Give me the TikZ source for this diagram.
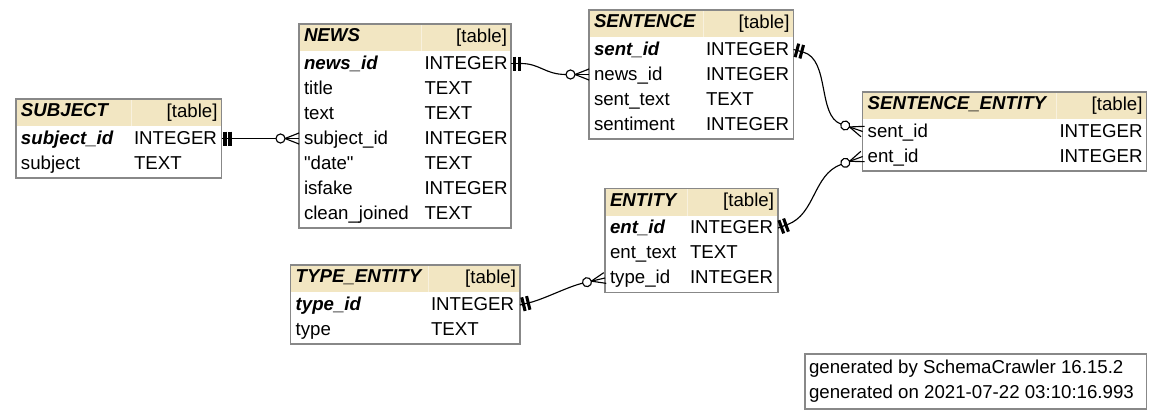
\documentclass[tikz,border=0pt]{standalone}
\usepackage{fontspec}
\setmainfont{Liberation Sans}
\font\rawq="Liberation Sans" at 14pt
\definecolor{hdr}{HTML}{F2E6C2}
\definecolor{bord}{HTML}{888888}
\definecolor{hdrdiv}{HTML}{F8F1DE}
\newcommand\fs{\fontsize{14}{16}\selectfont}
\newcommand\sq{{\rawq"}}
\tikzset{
  tblframe/.style={draw=bord, line width=0.9pt},
  cell/.style={anchor=base west, inner sep=0pt, outer sep=0pt, font=\fs},
  cellr/.style={anchor=base east, inner sep=0pt, outer sep=0pt, font=\fs},
  key/.style={font=\fs\bfseries\itshape},
  conn/.style={line width=0.85pt, black},
  bar/.style={line width=2.3pt, black},
}
% #1 id, #2 L, #3 T, #4 R, #5 divider, #6 rows, #7 title
\newcommand\dbtable[7]{%
  \pgfmathsetmacro\tb{#3+29+25*#6}%
  \fill[hdr] (#2,#3) rectangle (#4,#3+27);
  \draw[hdrdiv, line width=0.75pt] (#5,#3) -- (#5,#3+27);
  \draw[tblframe] (#2,#3) rectangle (#4,\tb);
  \node[cell, key] (#1-title) at (#2+5,#3+17.5) {#7};
  \node[cellr] (#1-kind) at (#4-4,#3+18) {[table]};
}
% #1 id, #2 L, #3 divider, #4 T, #5 i, #6 name, #7 type
\newcommand\dbrow[7]{%
  \node[cell] (#1-n#5) at (#2+5,#4+45+25*#5) {#6};
  \node[cell] (#1-t#5) at (#3+3,#4+45+25*#5) {#7};
}
\newcommand\onemark[2]{%
  \begin{scope}[shift={(#1)}, rotate=#2]
    \draw[conn] (0,0) -- (10,0);
    \draw[bar] (3.5,-7) -- (3.5,7);
    \draw[bar] (8.5,-7) -- (8.5,7);
  \end{scope}}
\newcommand\manymark[2]{%
  \begin{scope}[shift={(#1)}, rotate=#2]
    \draw[conn] (0,5.5) -- (14,0) -- (0,-5.5);
    \draw[conn] (0,0) -- (14,0);
    \draw[conn, fill=white] (18.5,0) circle[radius=4.5];
  \end{scope}}
\newcommand\kb[1]{{\bfseries\itshape #1}}
\begin{document}
\begin{tikzpicture}[x=0.75pt, y=-0.75pt]
\useasboundingbox (0,0) rectangle (1163,419);
\fill[white] (0,0) rectangle (1163,419);

% SUBJECT
\dbtable{subj}{16}{99}{221.5}{131}{2}{SUBJECT}
\dbrow{subj}{16}{131}{99}{0}{\kb{subject\_id}}{INTEGER}
\dbrow{subj}{16}{131}{99}{1}{subject}{TEXT}

% NEWS
\dbtable{news}{299}{24}{511}{421.5}{7}{NEWS}
\dbrow{news}{299}{421.5}{24}{0}{\kb{news\_id}}{INTEGER}
\dbrow{news}{299}{421.5}{24}{1}{title}{TEXT}
\dbrow{news}{299}{421.5}{24}{2}{text}{TEXT}
\dbrow{news}{299}{421.5}{24}{3}{subject\_id}{INTEGER}
\dbrow{news}{299}{421.5}{24}{4}{\sq date\sq}{TEXT}
\dbrow{news}{299}{421.5}{24}{5}{isfake}{INTEGER}
\dbrow{news}{299}{421.5}{24}{6}{clean\_joined}{TEXT}

% SENTENCE
\dbtable{sent}{589}{10}{793.5}{703}{4}{SENTENCE}
\dbrow{sent}{589}{703}{10}{0}{\kb{sent\_id}}{INTEGER}
\dbrow{sent}{589}{703}{10}{1}{news\_id}{INTEGER}
\dbrow{sent}{589}{703}{10}{2}{sent\_text}{TEXT}
\dbrow{sent}{589}{703}{10}{3}{sentiment}{INTEGER}

% SENTENCE_ENTITY
\dbtable{se}{862.7}{92}{1146.5}{1056.5}{2}{SENTENCE\_ENTITY}
\dbrow{se}{862.7}{1056.5}{92}{0}{sent\_id}{INTEGER}
\dbrow{se}{862.7}{1056.5}{92}{1}{ent\_id}{INTEGER}

% ENTITY
\dbtable{ent}{605}{188.5}{778}{687}{3}{ENTITY}
\dbrow{ent}{605}{687}{188.5}{0}{\kb{ent\_id}}{INTEGER}
\dbrow{ent}{605}{687}{188.5}{1}{ent\_text}{TEXT}
\dbrow{ent}{605}{687}{188.5}{2}{type\_id}{INTEGER}

% TYPE_ENTITY
\dbtable{te}{290.7}{265}{520}{428}{2}{TYPE\_ENTITY}
\dbrow{te}{290.7}{428}{265}{0}{\kb{type\_id}}{INTEGER}
\dbrow{te}{290.7}{428}{265}{1}{type}{TEXT}

% footer
\draw[tblframe] (805,354) rectangle (1146.5,409);
\node[cell] (gen1) at (809,373.5) {generated by SchemaCrawler 16.15.2};
\node[cell] (gen2) at (809,398.5) {generated on 2021-07-22 03:10:16.993};

% connector endpoints
\coordinate (c1s) at (221.5,138.5);
\coordinate (c1a) at (231.5,138.5);
\coordinate (c1b) at (276,138.5);
\coordinate (c1e) at (299,138.5);

\coordinate (c2s) at (511,63.5);
\coordinate (c2a) at (521,63.5);
\coordinate (c2b) at (566,74.5);
\coordinate (c2e) at (589,74.5);

\coordinate (c3s) at (793.5,49.5);
\coordinate (c3a) at (803.2,52.1);
\coordinate (c3b) at (840.9,124);
\coordinate (c3e) at (862.7,131.5);

\coordinate (c4s) at (778,228);
\coordinate (c4a) at (787.4,224.6);
\coordinate (c4b) at (841.1,164.4);
\coordinate (c4e) at (862.7,156.5);

\coordinate (c5s) at (520,305);
\coordinate (c5a) at (529.7,302.6);
\coordinate (c5b) at (582.6,283.2);
\coordinate (c5e) at (605,278);

% SUBJECT -> NEWS
\draw[conn] (c1a) -- (c1b);
\onemark{c1s}{0}
\manymark{c1e}{180}
% NEWS -> SENTENCE
\draw[conn] (c2a) .. controls (540,63.5) and (545,74.5) .. (c2b);
\onemark{c2s}{0}
\manymark{c2e}{180}
% SENTENCE -> SENTENCE_ENTITY
\draw[conn] (c3a) .. controls (830,59.4) and (817.4,115.9) .. (c3b);
\onemark{c3s}{-15}
\manymark{c3e}{161}
% ENTITY -> SENTENCE_ENTITY
\draw[conn] (c4a) .. controls (815.6,214.3) and (812.9,174.7) .. (c4b);
\onemark{c4s}{20}
\manymark{c4e}{200}
% TYPE_ENTITY -> ENTITY
\draw[conn] (c5a) .. controls (544.3,299) and (568,286.6) .. (c5b);
\onemark{c5s}{14}
\manymark{c5e}{193}
\end{tikzpicture}
\end{document}
